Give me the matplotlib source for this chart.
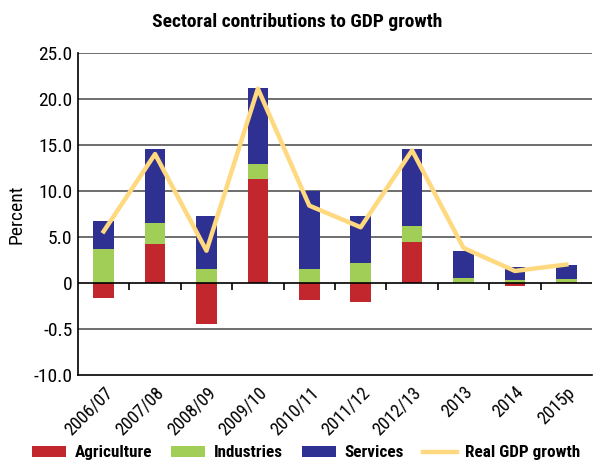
import numpy as np
import matplotlib.pyplot as plt

years = ['2006/07', '2007/08', '2008/09', '2009/10', '2010/11',
         '2011/12', '2012/13', '2013', '2014', '2015p']
agriculture = [-1.6, 4.2, -4.5, 11.3, -1.85, -2.05, 4.4, 0.0, -0.3, 0.05]
industries = [3.7, 2.3, 1.5, 1.6, 1.5, 2.2, 1.8, 0.55, 0.35, 0.35]
services = [3.0, 8.0, 5.8, 8.3, 8.5, 5.1, 8.3, 2.95, 1.35, 1.6]
gdp_growth = [5.6, 14.0, 3.5, 21.1, 8.4, 6.05, 14.4, 3.8, 1.3, 2.0]

ytick_vals = [-10, -5, 0, 5, 10, 15, 20, 25]
ytick_labels = ['-10.0', '-0.5', '0', '5.0', '10.0', '15.0', '20.0', '25.0']

plt.rcParams['font.family'] = ['Roboto Condensed', 'Liberation Sans Narrow', 'Roboto', 'DejaVu Sans']

red = '#C1272D'
green = '#A1CE57'
navy = '#2E3192'
gold = '#FFD980'

fig = plt.figure(figsize=(5.95, 4.67), dpi=100)
ax = fig.add_axes([0.131, 0.197, 0.864, 0.69])

x = np.arange(len(years))
w = 0.4
agri = np.array(agriculture)
ind = np.array(industries)
ser = np.array(services)
# stack industries above positive agriculture, else from zero
ind_base = np.where(agri > 0, agri, 0)
ser_base = ind_base + ind

b1 = ax.bar(x, agri, w, color=red, label='Agriculture', zorder=3)
b2 = ax.bar(x, ind, w, bottom=ind_base, color=green, label='Industries', zorder=3)
b3 = ax.bar(x, ser, w, bottom=ser_base, color=navy, label='Services', zorder=3)
l1, = ax.plot(x, gdp_growth, color=gold, lw=3.2, label='Real GDP growth', zorder=4)

ax.set_xlim(-0.5, len(years) - 0.5)
ax.set_ylim(-10, 25)
ax.set_yticks(ytick_vals)
ax.set_yticklabels(ytick_labels, fontsize=14)
ax.tick_params(axis='y', length=0, pad=4)
for v in ytick_vals:
    if v not in (-10, 0):
        ax.axhline(v, color='#555555', lw=1.2, zorder=1)
ax.axhline(0, color='black', lw=1.2, zorder=5)

ax.set_xticks(x)
ax.set_xticklabels(years, rotation=45, ha='right', rotation_mode='anchor', fontsize=13)
ax.tick_params(axis='x', length=0, pad=6)

# tick marks on the zero line between categories
sec = ax.secondary_xaxis(10 / 35)
sec.set_xticks(x[1:] - 0.5)
sec.set_xticklabels([])
sec.tick_params(length=5, width=1.2, direction='out')
sec.spines['bottom'].set_visible(False)

for s in ['top', 'right']:
    ax.spines[s].set_visible(False)
ax.spines['left'].set_linewidth(1.2)
ax.spines['bottom'].set_linewidth(1.2)

ax.set_ylabel('Percent', fontsize=14, labelpad=6)
fig.suptitle('Sectoral contributions to GDP growth', fontsize=14, fontweight='bold', y=0.972)

fig.legend([b1, b2, b3, l1], ['Agriculture', 'Industries', 'Services', 'Real GDP growth'],
           loc='center', bbox_to_anchor=(0.515, 0.03), ncol=4, frameon=False,
           prop={'size': 12.3, 'weight': 'bold'}, handlelength=2.0, handleheight=0.6,
           columnspacing=1.1, handletextpad=0.5)

fig.savefig('out.png', dpi=100)
